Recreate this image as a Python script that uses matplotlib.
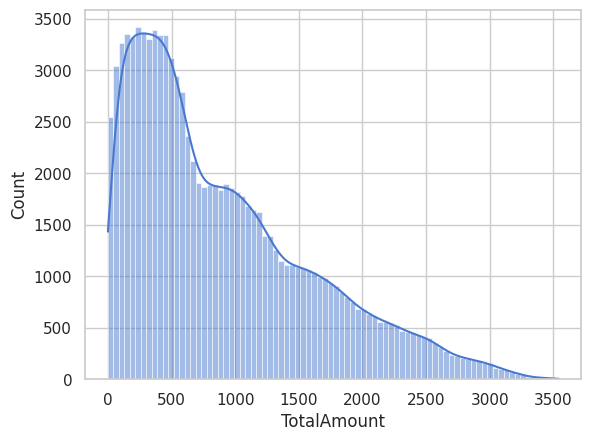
import numpy as np
import pandas as pd
import matplotlib
matplotlib.use("Agg")
import matplotlib.pyplot as plt
import seaborn as sns

# histogram: 82 bins from 0 to ~3540
bin_start = 0
bin_width = 43.2
counts = [
    2547, 3040, 3265, 3350, 3330, 3420, 3370, 3310, 3390, 3340,
    3345, 3120, 2945, 2790, 2360, 2125, 1905, 1865, 1885, 1885,
    1835, 1895, 1862, 1816, 1777, 1680, 1640, 1621, 1394, 1390,
    1257, 1153, 1111, 1111, 1095, 1079, 1062, 1040, 997, 981,
    932, 906, 851, 802, 753, 679, 679, 634, 614, 559,
    559, 549, 526, 471, 461, 445, 429, 410, 396, 348,
    315, 276, 234, 224, 211, 198, 185, 175, 162, 162,
    110, 104, 88, 71, 55, 39, 23, 16, 13, 13,
    10, 5,
]

counts = np.array(counts, dtype=float)
nbins = len(counts)
bin_end = bin_start + bin_width * nbins
centers = bin_start + bin_width * (np.arange(nbins) + 0.5)
df = pd.DataFrame({"TotalAmount": centers, "w": counts})

# kde from the binned counts, scott's rule on the full sample size,
# evaluated over the whole data range (0 .. max) like seaborn's cut=0
n = counts.sum()
mean = np.sum(counts * centers) / n
std = np.sqrt(np.sum(counts * (centers - mean) ** 2) / n)
bw = std * n ** -0.2
grid = np.linspace(bin_start, bin_end, 200)
dens = (counts[None, :] * np.exp(-0.5 * ((grid[:, None] - centers[None, :]) / bw) ** 2)).sum(axis=1)
dens = dens / (n * bw * np.sqrt(2 * np.pi))
kde_counts = dens * n * bin_width

sns.set_theme(style="whitegrid", palette="muted")
blue = sns.color_palette("muted")[0]

fig, ax = plt.subplots(figsize=(6.4, 4.8), dpi=100)
sns.histplot(data=df, x="TotalAmount", weights="w", bins=nbins,
             binrange=(bin_start, bin_end), alpha=0.5, ax=ax)
ax.plot(grid, kde_counts, color=blue, linewidth=1.5)
ax.set_xlabel("TotalAmount")
ax.set_ylabel("Count")

plt.savefig("out.png", dpi=100, bbox_inches="tight")
